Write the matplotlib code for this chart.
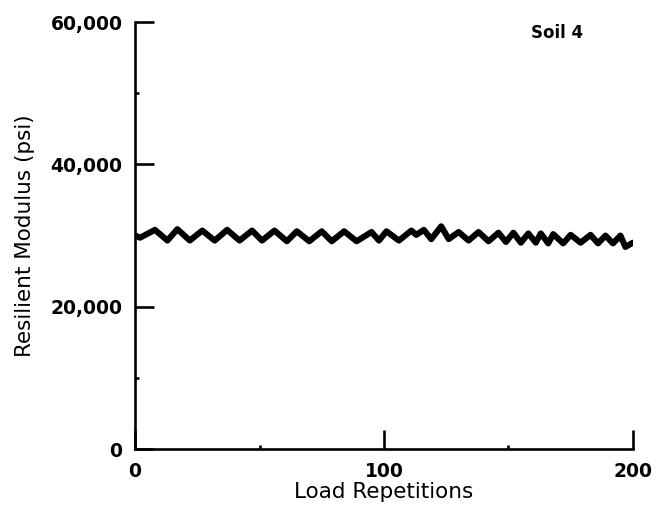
import numpy as np
import matplotlib.pyplot as plt
from matplotlib.ticker import FuncFormatter, MultipleLocator

plt.rcParams['font.family'] = ['DejaVu Sans']

# Soil 4 resilient modulus readings (peaks and troughs)
reps = [0, 2, 8, 13, 17, 22, 27, 32, 37, 42, 47, 51, 56, 61, 65, 70, 75, 79,
        84, 89, 95, 98, 101, 106, 111, 113, 116, 119, 123, 126, 130, 134, 138,
        142, 146, 149, 152, 155, 158, 161, 163, 166, 168, 172, 175, 179, 183,
        186, 189, 192, 195, 197, 200]
modulus = [30000, 29700, 30800, 29300, 30900, 29300, 30700, 29300, 30800,
           29300, 30700, 29300, 30700, 29200, 30600, 29200, 30600, 29200,
           30600, 29200, 30500, 29300, 30600, 29300, 30700, 30100, 30800,
           29500, 31300, 29500, 30500, 29300, 30500, 29200, 30400, 29100,
           30400, 29000, 30300, 29000, 30300, 28900, 30200, 28900, 30100,
           29000, 30100, 28900, 30000, 28900, 30000, 28400, 29000]

x_ticks = [0, 100, 200]
y_ticks = [0, 20000, 40000, 60000]

fig = plt.figure(figsize=(6.62, 5.2), dpi=100)
ax = fig.add_axes([0.204, 0.1365, 0.752, 0.821])

ax.plot(reps, modulus, color='black', lw=4.4, solid_joinstyle='round',
        solid_capstyle='round')

ax.set_xlim(0, 200)
ax.set_ylim(0, 60000)
ax.set_xticks(x_ticks)
ax.set_yticks(y_ticks)
ax.xaxis.set_minor_locator(MultipleLocator(50))
ax.yaxis.set_minor_locator(MultipleLocator(10000))
ax.yaxis.set_major_formatter(FuncFormatter(lambda v, p: f'{int(v):,}'))

for s in ['top', 'right']:
    ax.spines[s].set_visible(False)
for s in ['left', 'bottom']:
    ax.spines[s].set_linewidth(1.9)

ax.tick_params(which='major', direction='in', length=13.5, width=1.9,
               labelsize=13.5)
ax.tick_params(axis='x', which='major', pad=9)
ax.tick_params(axis='y', which='major', pad=9)
ax.tick_params(which='minor', direction='in', length=3, width=1.9)
for lab in ax.get_xticklabels() + ax.get_yticklabels():
    lab.set_fontweight('bold')

ax.set_xlabel('Load Repetitions', fontsize=15.5, labelpad=1)
ax.set_ylabel('Resilient Modulus (psi)', fontsize=15.5)
ax.yaxis.set_label_coords(-0.20, 0.5)
ax.text(0.795, 0.995, 'Soil 4', transform=ax.transAxes, fontsize=12,
        fontweight='bold', va='top', ha='left')

fig.savefig('out.png', dpi=100)
